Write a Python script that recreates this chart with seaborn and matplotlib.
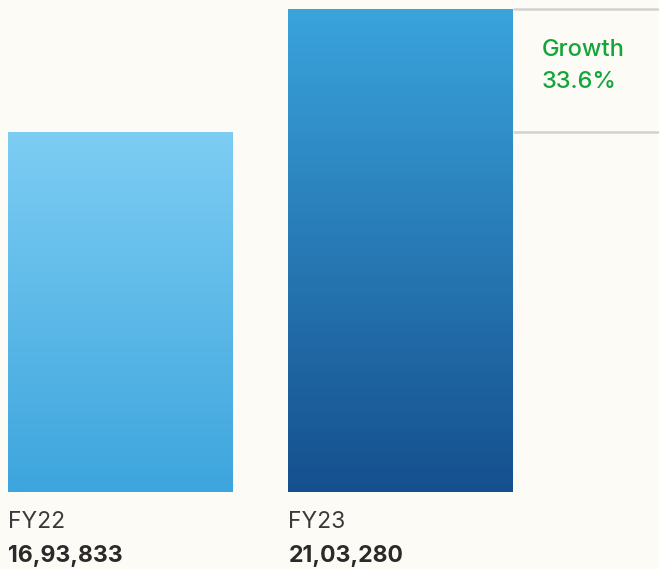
import numpy as np
import pandas as pd
import matplotlib
matplotlib.use("Agg")
import matplotlib.pyplot as plt
import matplotlib.transforms as mtransforms
from matplotlib.colors import LinearSegmentedColormap
import seaborn as sns

# Data
years = ["FY22", "FY23"]
values = [1693833, 2103280]
value_labels = ["16,93,833", "21,03,280"]
growth_label = "33.6%"

# Gradient stops per bar (top colour, bottom colour)
bar_gradients = [("#7dcdf3", "#3da5dd"), ("#3aa4dc", "#154f8e")]

BG = "#fdfbf6"
GREEN = "#13a53a"
TEXT = "#2a2a2a"

sns.set_theme(style="white")
plt.rcParams["font.family"] = ["Inter", "DejaVu Sans"]

W, H = 659, 569
fig = plt.figure(figsize=(W / 100, H / 100), dpi=100, facecolor=BG)
ax_bottom_px = 492
ax = fig.add_axes([0, (H - ax_bottom_px) / H, 1, ax_bottom_px / H])
ax.set_facecolor(BG)

df = pd.DataFrame({"year": years, "value": values})
sns.barplot(data=df, x="year", y="value", width=0.8, color="#3da5dd", ax=ax,
            saturation=1, errorbar=None)

# Value axis starts above zero so the bar heights emphasise the change
YLIM = (495400, 2133240)
XLIM = (-0.430, 1.923)

# Vertical gradient fill for each bar
for patch, (top, bottom) in zip(ax.patches, bar_gradients):
    x0, y0 = patch.get_x(), YLIM[0]
    x1, y1 = x0 + patch.get_width(), patch.get_height()
    cmap = LinearSegmentedColormap.from_list("g", [bottom, top])
    grad = np.linspace(0, 1, 256).reshape(-1, 1)
    im = ax.imshow(grad, cmap=cmap, aspect="auto", origin="lower",
                   extent=(x0, x1, y0, y1), zorder=patch.get_zorder() + 0.1)
    im.set_clip_path(patch)
    patch.set_edgecolor("none")

ax.set_xlim(*XLIM)
ax.set_ylim(*YLIM)
ax.axis("off")

# Growth band between the two bar tops, to the right of FY23
right_edge = ax.patches[1].get_x() + ax.patches[1].get_width()
for v in values:
    ax.plot([right_edge, XLIM[1]], [v, v], color="#d2d2d2", lw=1.8,
            solid_capstyle="butt", clip_on=False, zorder=1)

trans = mtransforms.blended_transform_factory(ax.transData, fig.transFigure)
ax.text(right_edge + 0.103, (H - 56) / H, "Growth", transform=trans,
        color=GREEN, fontsize=17, fontweight="medium", va="baseline", ha="left")
ax.text(right_edge + 0.103, (H - 88) / H, growth_label, transform=trans,
        color=GREEN, fontsize=17, fontweight="medium", va="baseline", ha="left")

# Category and value labels under each bar
for patch, yr, lab in zip(ax.patches, years, value_labels):
    x = patch.get_x()
    ax.text(x, (H - 528) / H, yr, transform=trans, color="#3a3a3a",
            fontsize=16.5, fontweight="normal", va="baseline", ha="left")
    ax.text(x, (H - 562) / H, lab, transform=trans, color=TEXT,
            fontsize=16.6, fontweight="bold", va="baseline", ha="left")

fig.savefig("out.png", dpi=100, facecolor=BG)
